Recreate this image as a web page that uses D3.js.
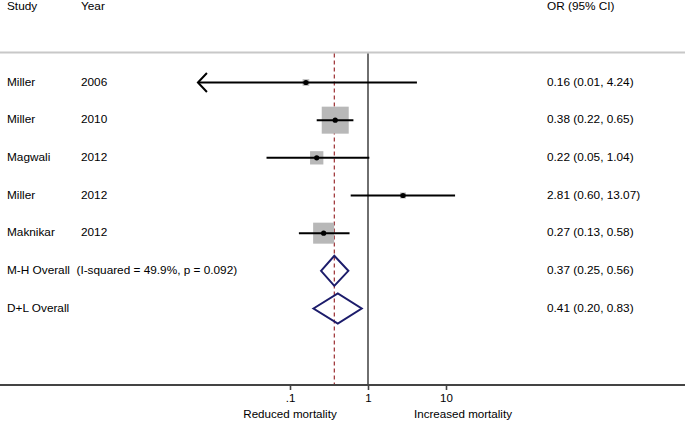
<!DOCTYPE html>
<html><head><meta charset="utf-8">
<script src="https://cdn.jsdelivr.net/npm/d3@7"></script>
<style>
html,body{margin:0;padding:0;background:#fff;}
text{font-family:"Liberation Sans",Arial,Helvetica,sans-serif;white-space:pre;}
</style></head>
<body><svg id="c" width="685" height="421"></svg>
<script>
// ---- data ----
const studies = ["Miller","Miller","Magwali","Miller","Maknikar"];
const years = ["2006","2010","2012","2012","2012"];
const orValues = [0.16,0.38,0.22,2.81,0.27];
const ciLower = [0.006,0.22,0.05,0.60,0.13];
const ciUpper = [4.24,0.65,1.04,13.07,0.58];
const weights = [3.1,51.0,12.4,2.5,30.9];
const pooledLabels = ["M-H Overall  (I-squared = 49.9%, p = 0.092)","D+L Overall"];
const pooledOR = [0.37,0.41];
const pooledLower = [0.25,0.20];
const pooledUpper = [0.56,0.83];
const tickValues = [0.1,1,10];
const tickLabels = [".1","1","10"];
const headers = ["Study","Year","OR (95% CI)"];
const axisTitles = ["Reduced mortality","Increased mortality"];

const svg = d3.select("#c");
const W = 685;
const fs = "11.8px";

const x = d3.scaleLog().domain([0.1,10]).range([290,446]);
const xmin = 0.0066, xmax = 150;
const nRows = studies.length + pooledOR.length;
const y = d3.scalePoint().domain(d3.range(nRows)).range([82.5,308.5]);
const boxSide = d3.scaleSqrt().domain([0,100]).range([0,37.8]);
const fmt = v => v.toFixed(2);
const ciText = (o,l,u) => `${fmt(o)} (${fmt(l)}, ${fmt(u)})`;

// header
svg.append("text").attr("x",7).attr("y",7).attr("dominant-baseline","middle").style("font-size",fs).text(headers[0]);
svg.append("text").attr("x",81).attr("y",7).attr("dominant-baseline","middle").style("font-size",fs).text(headers[1]);
svg.append("text").attr("x",547).attr("y",7).attr("dominant-baseline","middle").style("font-size",fs).text(headers[2]);
svg.append("line").attr("x1",0).attr("x2",W).attr("y1",52.5).attr("y2",52.5).attr("stroke","#c8c8c8").attr("stroke-width",2);

const axisY = 385;
// null line
svg.append("line").attr("x1",x(1)).attr("x2",x(1)).attr("y1",53.5).attr("y2",axisY)
  .attr("stroke","#333").attr("stroke-width",1.4);
// pooled dashed line
svg.append("line").attr("x1",x(pooledOR[0])).attr("x2",x(pooledOR[0])).attr("y1",53.5).attr("y2",axisY)
  .attr("stroke","#9b2d30").attr("stroke-width",1.2).attr("stroke-dasharray","4,3");

// studies
studies.forEach((s,i)=>{
  const cy = y(i);
  const side = boxSide(weights[i]);
  svg.append("rect").attr("x",x(orValues[i])-side/2).attr("y",cy-side/2)
    .attr("width",side).attr("height",side).attr("fill","#b8b8b8");
  const lo = Math.max(ciLower[i],xmin), hi = Math.min(ciUpper[i],xmax);
  svg.append("line").attr("x1",x(lo)).attr("x2",x(hi)).attr("y1",cy).attr("y2",cy)
    .attr("stroke","#000").attr("stroke-width",2);
  if (ciLower[i] < xmin) {
    const ax = x(xmin);
    svg.append("path").attr("d",`M${ax+9},${cy-9.5}L${ax},${cy}L${ax+9},${cy+9.5}`)
      .attr("fill","none").attr("stroke","#000").attr("stroke-width",2);
  }
  svg.append("circle").attr("cx",x(orValues[i])).attr("cy",cy).attr("r",2.6).attr("fill","#000");
  svg.append("text").attr("x",7).attr("y",cy).attr("dominant-baseline","middle").style("font-size",fs).text(s);
  svg.append("text").attr("x",81).attr("y",cy).attr("dominant-baseline","middle").style("font-size",fs).text(years[i]);
  svg.append("text").attr("x",547).attr("y",cy).attr("dominant-baseline","middle").style("font-size",fs)
    .text(ciText(orValues[i],ciLower[i],ciUpper[i]));
});

// pooled diamonds
pooledOR.forEach((o,j)=>{
  const cy = y(studies.length + j);
  const h = 15;
  svg.append("path")
    .attr("d",`M${x(pooledLower[j])},${cy}L${x(o)},${cy-h}L${x(pooledUpper[j])},${cy}L${x(o)},${cy+h}Z`)
    .attr("fill","none").attr("stroke","#1c1c6b").attr("stroke-width",2);
  svg.append("text").attr("x",7).attr("y",cy).attr("dominant-baseline","middle").style("font-size",fs).text(pooledLabels[j]);
  svg.append("text").attr("x",547).attr("y",cy).attr("dominant-baseline","middle").style("font-size",fs)
    .text(ciText(o,pooledLower[j],pooledUpper[j]));
});

// axis
svg.append("line").attr("x1",0).attr("x2",W).attr("y1",axisY).attr("y2",axisY)
  .attr("stroke","#444").attr("stroke-width",2);
const ax = svg.append("g").attr("transform",`translate(0,${axisY})`)
  .call(d3.axisBottom(x).tickValues(tickValues).tickFormat((d,i)=>tickLabels[i]).tickSize(5).tickPadding(3.5));
ax.select(".domain").remove();
ax.selectAll(".tick line").attr("stroke","#444").attr("stroke-width",1.6);
ax.selectAll(".tick text").style("font-size","11.5px").style("font-family","'Liberation Sans',Arial,sans-serif").attr("fill","#000");
svg.append("text").attr("x",x(0.1)).attr("y",414.5).attr("text-anchor","middle").attr("dominant-baseline","middle").style("font-size","11.6px").text(axisTitles[0]);
svg.append("text").attr("x",463).attr("y",414.5).attr("text-anchor","middle").attr("dominant-baseline","middle").style("font-size","11.6px").text(axisTitles[1]);
</script></body></html>
